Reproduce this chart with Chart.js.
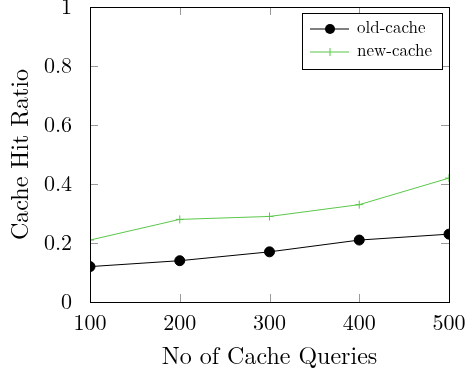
<!DOCTYPE html>
<html>
<head>
<meta charset="utf-8">
<script src="https://cdn.jsdelivr.net/npm/chart.js@4/dist/chart.umd.min.js"></script>
<style>
  html, body { margin: 0; padding: 0; background: #fff; }
  #wrap { width: 468px; height: 375px; }
</style>
</head>
<body>
<div id="wrap"><canvas id="c"></canvas></div>
<script>
const queries = [100, 200, 300, 400, 500];
const oldCache = [0.12, 0.14, 0.17, 0.21, 0.23];
const newCache = [0.21, 0.28, 0.29, 0.33, 0.42];
const xTicks = [100, 200, 300, 400, 500];
const yTicks = [0, 0.2, 0.4, 0.6, 0.8, 1];

const serif = "'Latin Modern Roman', 'Liberation Serif', 'DejaVu Serif', serif";
const green = "#5ac84a";

// pgfplots-style frame: inward ticks on all four sides, then the border
const framePlugin = {
  id: "frame",
  afterDraw(chart) {
    const { ctx, chartArea: a, scales } = chart;
    const len = 8;
    ctx.save();
    ctx.strokeStyle = "#9a9a9a";
    ctx.lineWidth = 1;
    ctx.beginPath();
    xTicks.forEach(v => {
      const x = Math.round(scales.x.getPixelForValue(v)) + 0.5;
      ctx.moveTo(x, a.bottom); ctx.lineTo(x, a.bottom - len);
      ctx.moveTo(x, a.top); ctx.lineTo(x, a.top + len);
    });
    yTicks.forEach(v => {
      const y = Math.round(scales.y.getPixelForValue(v)) + 0.5;
      ctx.moveTo(a.left, y); ctx.lineTo(a.left + len, y);
      ctx.moveTo(a.right, y); ctx.lineTo(a.right - len, y);
    });
    ctx.stroke();
    ctx.strokeStyle = "#000";
    ctx.strokeRect(Math.round(a.left) + 0.5, Math.round(a.top) + 0.5,
      Math.round(a.right - a.left), Math.round(a.bottom - a.top));
    ctx.restore();
  }
};

// legend box in the top right corner
const boxLegendPlugin = {
  id: "boxLegend",
  afterDraw(chart) {
    const ctx = chart.ctx;
    const left = 302, top = 13, w = 140, h = 56;
    ctx.save();
    ctx.fillStyle = "#fff";
    ctx.fillRect(left, top, w, h);
    ctx.strokeStyle = "#000";
    ctx.lineWidth = 1;
    ctx.strokeRect(left + 0.5, top + 0.5, w, h);
    ctx.font = "17px " + serif;
    ctx.textBaseline = "middle";
    chart.data.datasets.forEach((ds, i) => {
      const y = top + 16 + i * 23;
      ctx.strokeStyle = ds.borderColor;
      ctx.beginPath();
      ctx.moveTo(310, y); ctx.lineTo(349, y);
      ctx.stroke();
      if (ds.pointStyle === "circle") {
        ctx.fillStyle = "#000";
        ctx.beginPath();
        ctx.arc(330, y, 5, 0, Math.PI * 2);
        ctx.fill();
      } else {
        ctx.beginPath();
        ctx.moveTo(330, y - 4); ctx.lineTo(330, y + 4);
        ctx.stroke();
      }
      ctx.fillStyle = "#000";
      ctx.fillText(ds.label, 357, y - 1);
    });
    ctx.restore();
  }
};

new Chart(document.getElementById("c"), {
  type: "line",
  data: {
    datasets: [
      {
        label: "old-cache",
        data: queries.map((q, i) => ({ x: q, y: oldCache[i] })),
        borderColor: "#000",
        backgroundColor: "#000",
        borderWidth: 1,
        pointStyle: "circle",
        pointRadius: 5,
        pointHoverRadius: 5
      },
      {
        label: "new-cache",
        data: queries.map((q, i) => ({ x: q, y: newCache[i] })),
        borderColor: green,
        backgroundColor: green,
        borderWidth: 1,
        pointStyle: "cross",
        pointRadius: 4,
        pointBorderWidth: 1,
        pointHoverRadius: 4
      }
    ]
  },
  options: {
    responsive: true,
    maintainAspectRatio: false,
    animation: false,
    layout: { padding: { top: 7, right: 19, left: 0, bottom: 0 } },
    plugins: { legend: { display: false }, tooltip: { enabled: false } },
    scales: {
      x: {
        type: "linear",
        min: 100,
        max: 500,
        afterBuildTicks: s => { s.ticks = xTicks.map(v => ({ value: v })); },
        afterFit: s => { s.height = 73; s.paddingLeft = 0; s.paddingRight = 0; },
        grid: { display: false },
        border: { display: false },
        ticks: { color: "#000", padding: 0, font: { family: serif, size: 22 } },
        title: { display: true, text: "No of Cache Queries", color: "#000", padding: { top: 8 }, font: { family: serif, size: 24 } }
      },
      y: {
        min: 0,
        max: 1,
        afterBuildTicks: s => { s.ticks = yTicks.map(v => ({ value: v })); },
        afterFit: s => { s.width = 90; s.paddingTop = 0; s.paddingBottom = 0; },
        grid: { display: false },
        border: { display: false },
        ticks: { color: "#000", padding: 10, font: { family: serif, size: 22 }, callback: v => String(v) },
        title: { display: true, text: "Cache Hit Ratio", color: "#000", padding: { top: 6, bottom: 2 }, font: { family: serif, size: 24 } }
      }
    }
  },
  plugins: [framePlugin, boxLegendPlugin]
});
</script>
</body>
</html>
